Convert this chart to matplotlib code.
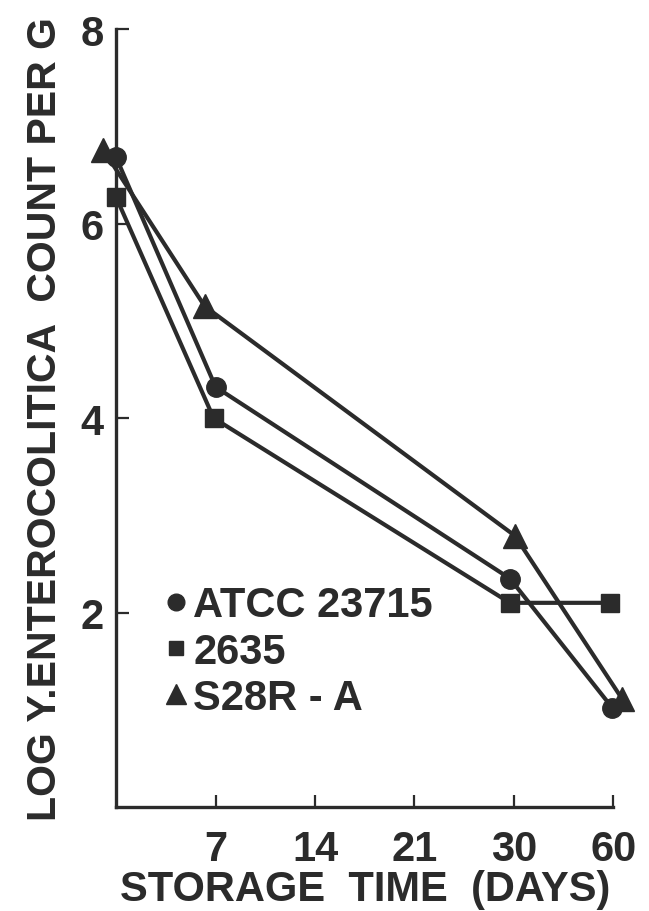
import matplotlib
matplotlib.use('Agg')
import matplotlib.pyplot as plt
from matplotlib.lines import Line2D

# storage days shown on the x axis (plotted on an evenly spaced index scale)
day_labels = ['7', '14', '21', '30', '60']
day_pos = [1, 2, 3, 4, 5]

# log count per g for each strain; x is the index position of each sample
atcc_x = [0.0, 1.0, 3.96, 4.99]
atcc_y = [6.68, 4.32, 2.35, 1.02]
s2635_x = [0.0, 0.98, 3.96, 4.97]
s2635_y = [6.27, 4.00, 2.10, 2.10]
s28r_x = [-0.13, 0.89, 4.01, 5.09]
s28r_y = [6.76, 5.15, 2.79, 1.11]

ink = '#2b2b2b'
plt.rcParams['font.family'] = ['Liberation Sans', 'DejaVu Sans']
plt.rcParams['font.weight'] = 'bold'
plt.rcParams['axes.labelweight'] = 'bold'
fs = 30

fig = plt.figure(figsize=(6.49, 9.12), dpi=100)
ax = fig.add_axes([0.179, 0.114, 0.766, 0.853])

lw = 3.0
ax.plot(atcc_x, atcc_y, color=ink, lw=lw, marker='o', ms=14, clip_on=False, zorder=3)
ax.plot(s2635_x, s2635_y, color=ink, lw=lw, marker='s', ms=12.5, clip_on=False, zorder=3)
ax.plot(s28r_x, s28r_y, color=ink, lw=lw, marker='^', ms=17, clip_on=False, zorder=3)

ax.set_xlim(0, 5)
ax.set_ylim(0, 8)
ax.set_xticks(day_pos)
ax.set_xticklabels(day_labels)
ax.set_yticks([2, 4, 6, 8])
ax.set_yticklabels(['2', '4', '6', '8'])

for side in ('top', 'right'):
    ax.spines[side].set_visible(False)
for side in ('left', 'bottom'):
    ax.spines[side].set_linewidth(2.4)
    ax.spines[side].set_color(ink)

ax.tick_params(axis='both', direction='in', length=9, width=1.6, colors=ink,
               labelsize=fs, labelcolor=ink)
ax.tick_params(axis='y', pad=9)
ax.tick_params(axis='x', pad=16)

ax.set_xlabel('STORAGE  TIME  (DAYS)', fontsize=fs, color=ink,
              fontweight='bold', labelpad=0)
ax.set_ylabel('LOG Y.ENTEROCOLITICA  COUNT PER G', fontsize=29.5, color=ink,
              fontweight='bold', labelpad=12)

handles = [
    Line2D([], [], color=ink, marker='o', ls='none', ms=12),
    Line2D([], [], color=ink, marker='s', ls='none', ms=10),
    Line2D([], [], color=ink, marker='^', ls='none', ms=14),
]
leg = ax.legend(handles, ['ATCC 23715', '2635', 'S28R - A'], loc='upper left',
                bbox_to_anchor=(0.095, 0.285), frameon=False, fontsize=fs,
                handlelength=0.6, handletextpad=0.12, labelspacing=0.15,
                borderaxespad=0, borderpad=0)
for t in leg.get_texts():
    t.set_color(ink)
    t.set_fontweight('bold')

fig.savefig('out.png', dpi=100)
